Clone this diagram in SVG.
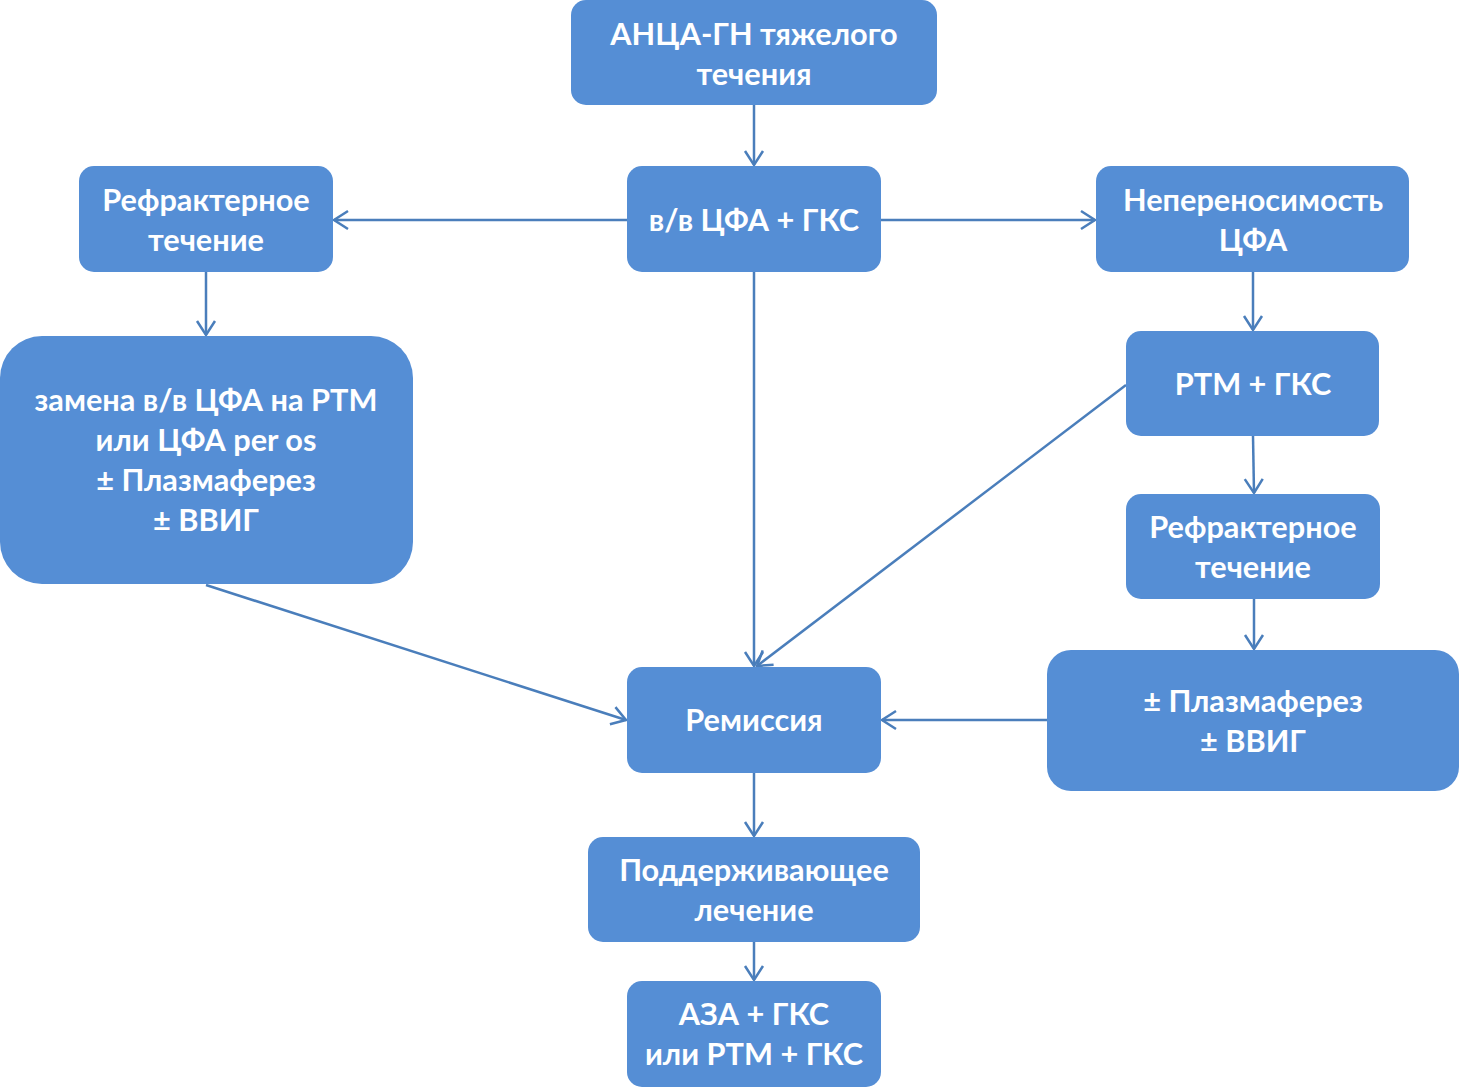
<svg xmlns="http://www.w3.org/2000/svg" width="1459" height="1087" viewBox="0 0 1459 1087">
<defs>
<style>
.box{fill:#558ED5;}
.t{font-family:Lato,"Open Sans","Liberation Sans",sans-serif;font-weight:bold;font-size:30.7px;fill:#FFFFFF;text-anchor:middle;}
.c{stroke:#4A7EBB;stroke-width:2.5;fill:none;marker-end:url(#ah);}
</style>
<marker id="ah" markerUnits="userSpaceOnUse" markerWidth="24" markerHeight="24" viewBox="-16 -12 18 24" refX="0" refY="0" orient="auto">
<path d="M-14,-9 L0,0 L-14,9" fill="none" stroke="#4A7EBB" stroke-width="2.5"/>
</marker>
</defs>
<rect width="1459" height="1087" fill="#FFFFFF"/>
<g id="connectors">
<line class="c" x1="754" y1="105" x2="754" y2="165"/>
<line class="c" x1="627" y1="220" x2="334" y2="220"/>
<line class="c" x1="881" y1="220" x2="1095" y2="220"/>
<line class="c" x1="206" y1="272" x2="206" y2="335"/>
<line class="c" x1="754" y1="272" x2="754" y2="666"/>
<line class="c" x1="1253" y1="272" x2="1253" y2="330"/>
<line class="c" x1="1126" y1="385" x2="757" y2="666"/>
<line class="c" x1="1253" y1="436" x2="1254" y2="493"/>
<line class="c" x1="1254" y1="599" x2="1254" y2="649"/>
<line class="c" x1="206" y1="585" x2="626" y2="720"/>
<line class="c" x1="1047" y1="720" x2="882" y2="720"/>
<line class="c" x1="754" y1="773" x2="754" y2="836"/>
<line class="c" x1="754" y1="942" x2="754" y2="980"/>
</g>
<g id="n1"><rect class="box" x="571" y="0" width="366" height="105" rx="15"/><text class="t" x="754" y="45">АНЦА-ГН тяжелого</text><text class="t" x="754" y="85">течения</text></g>
<g id="n2"><rect class="box" x="627" y="166" width="254" height="106" rx="15"/><text class="t" x="754" y="231">в/в ЦФА + ГКС</text></g>
<g id="n3"><rect class="box" x="79" y="166" width="254" height="106" rx="15"/><text class="t" x="206" y="211">Рефрактерное</text><text class="t" x="206" y="251">течение</text></g>
<g id="n4"><rect class="box" x="1096" y="166" width="313" height="106" rx="15"/><text class="t" x="1253" y="211">Непереносимость</text><text class="t" x="1253" y="251">ЦФА</text></g>
<g id="n5"><rect class="box" x="0" y="336" width="413" height="248" rx="42"/><text class="t" x="206" y="411">замена в/в ЦФА на РТМ</text><text class="t" x="206" y="451">или ЦФА per os</text><text class="t" x="206" y="491">± Плазмаферез</text><text class="t" x="206" y="531">± ВВИГ</text></g>
<g id="n6"><rect class="box" x="1126" y="331" width="253" height="105" rx="15"/><text class="t" x="1253" y="395">РТМ + ГКС</text></g>
<g id="n7"><rect class="box" x="1126" y="494" width="254" height="105" rx="15"/><text class="t" x="1253" y="538">Рефрактерное</text><text class="t" x="1253" y="578">течение</text></g>
<g id="n8"><rect class="box" x="1047" y="650" width="412" height="141" rx="24"/><text class="t" x="1253" y="712">± Плазмаферез</text><text class="t" x="1253" y="752">± ВВИГ</text></g>
<g id="n9"><rect class="box" x="627" y="667" width="254" height="106" rx="15"/><text class="t" x="754" y="731">Ремиссия</text></g>
<g id="n10"><rect class="box" x="588" y="837" width="332" height="105" rx="15"/><text class="t" x="754" y="881">Поддерживающее</text><text class="t" x="754" y="921">лечение</text></g>
<g id="n11"><rect class="box" x="627" y="981" width="254" height="106" rx="15"/><text class="t" x="754" y="1025">АЗА + ГКС</text><text class="t" x="754" y="1065">или РТМ + ГКС</text></g>
</svg>
